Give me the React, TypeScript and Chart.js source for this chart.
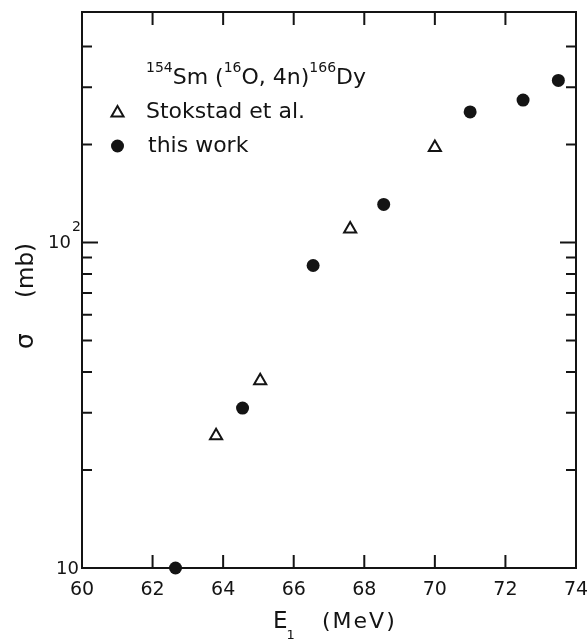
import React, { useEffect, useRef } from 'react';
import { Chart, registerables } from 'chart.js';

Chart.register(...registerables);

// ---- data ----
const X_TICKS = [60, 62, 64, 66, 68, 70, 72, 74];
const Y_MINOR_TICKS = [20, 30, 40, 50, 60, 70, 80, 90, 200, 300, 400];
const Y_MAJOR_TICKS = [100];
const STOKSTAD_E = [63.8, 65.05, 67.6, 70.0];
const STOKSTAD_SIGMA = [25.5, 37.6, 110, 196];
const THISWORK_E = [62.65, 64.55, 66.55, 68.55, 71.0, 72.5, 73.5];
const THISWORK_SIGMA = [10, 31, 85, 131, 252, 274, 315];

const FONT = '"DejaVu Sans", sans-serif';
const INK = '#141414';

function txt(ctx: CanvasRenderingContext2D, s: string, x: number, y: number, size: number, spacing = 0, align: CanvasTextAlign = 'left') {
  ctx.font = `${size}px ${FONT}`;
  (ctx as any).letterSpacing = `${spacing}px`;
  ctx.textAlign = align;
  ctx.textBaseline = 'alphabetic';
  ctx.fillText(s, x, y);
  const w = ctx.measureText(s).width;
  (ctx as any).letterSpacing = '0px';
  return w;
}

const framePlugin = {
  id: 'frame',
  beforeDatasetsDraw(chart: any) {
    const { ctx, chartArea: a, scales } = chart;
    const x = scales.x;
    const y = scales.y;
    ctx.save();
    ctx.strokeStyle = INK;
    ctx.lineWidth = 2;
    ctx.lineCap = 'butt';
    ctx.strokeRect(a.left, a.top, a.right - a.left, a.bottom - a.top);
    ctx.beginPath();
    for (const v of X_TICKS) {
      const px = x.getPixelForValue(v);
      ctx.moveTo(px, a.bottom);
      ctx.lineTo(px, a.bottom - 13);
      ctx.moveTo(px, a.top);
      ctx.lineTo(px, a.top + 13);
    }
    for (const v of Y_MINOR_TICKS) {
      const py = y.getPixelForValue(v);
      ctx.moveTo(a.left, py);
      ctx.lineTo(a.left + 10, py);
      ctx.moveTo(a.right, py);
      ctx.lineTo(a.right - 10, py);
    }
    for (const v of Y_MAJOR_TICKS) {
      const py = y.getPixelForValue(v);
      ctx.moveTo(a.left, py);
      ctx.lineTo(a.left + 16, py);
      ctx.moveTo(a.right, py);
      ctx.lineTo(a.right - 16, py);
    }
    ctx.stroke();
    ctx.restore();
  },
  afterDraw(chart: any) {
    const { ctx, chartArea: a, scales } = chart;
    const y = scales.y;
    ctx.save();
    ctx.fillStyle = INK;

    // y tick labels
    const y10 = y.getPixelForValue(10);
    txt(ctx, '10', a.left - 3, y10 + 6, 18, 0, 'right');
    const y100 = y.getPixelForValue(100);
    txt(ctx, '10', a.left - 11, y100 + 5, 18, 0, 'right');
    txt(ctx, '2', a.left - 10, y100 - 12, 14, 0, 'left');

    // y title (rotated)
    ctx.save();
    ctx.translate(33, 349);
    ctx.rotate(-Math.PI / 2);
    txt(ctx, 'σ', 0, 0, 25);
    txt(ctx, '(mb)', 51, 0, 23, 0);
    ctx.restore();

    // x title
    let cx = 273;
    cx += txt(ctx, 'E', cx, 628, 23);
    txt(ctx, '1', cx - 1, 639, 13);
    txt(ctx, '(MeV)', 322, 628, 22, 2);

    // reaction label
    cx = 146;
    cx += txt(ctx, '154', cx, 72, 14);
    cx += txt(ctx, 'Sm (', cx, 84, 22);
    cx += txt(ctx, '16', cx, 72, 14);
    cx += txt(ctx, 'O, 4n)', cx, 84, 22);
    cx += txt(ctx, '166', cx, 72, 14);
    txt(ctx, 'Dy', cx, 84, 22);

    // legend
    ctx.strokeStyle = INK;
    ctx.lineWidth = 2;
    const tx = 117.5, ty = 113, r = 7;
    ctx.beginPath();
    for (let i = 0; i < 3; i++) {
      const ang = (i * 2 * Math.PI) / 3;
      const px = tx + Math.sin(ang) * r;
      const py = ty - Math.cos(ang) * r;
      if (i === 0) ctx.moveTo(px, py); else ctx.lineTo(px, py);
    }
    ctx.closePath();
    ctx.fillStyle = '#fff';
    ctx.fill();
    ctx.stroke();
    ctx.fillStyle = INK;
    txt(ctx, 'Stokstad et al.', 146, 118, 22);

    ctx.beginPath();
    ctx.arc(117.5, 146, 6.5, 0, Math.PI * 2);
    ctx.fill();
    txt(ctx, 'this work', 148, 152, 22);

    ctx.restore();
  },
};

export default function App() {
  const ref = useRef<HTMLCanvasElement | null>(null);
  useEffect(() => {
    if (!ref.current) return;
    Chart.defaults.font.family = FONT;
    const chart = new Chart(ref.current, {
      type: 'scatter',
      data: {
        datasets: [
          {
            label: 'Stokstad et al.',
            data: STOKSTAD_E.map((e, i) => ({ x: e, y: STOKSTAD_SIGMA[i] })),
            pointStyle: 'triangle',
            pointRadius: 7,
            pointBackgroundColor: '#ffffff',
            pointBorderColor: INK,
            pointBorderWidth: 2,
            clip: false,
          } as any,
          {
            label: 'this work',
            data: THISWORK_E.map((e, i) => ({ x: e, y: THISWORK_SIGMA[i] })),
            pointStyle: 'circle',
            pointRadius: 6.5,
            pointBackgroundColor: INK,
            pointBorderColor: INK,
            pointBorderWidth: 0,
            clip: false,
          } as any,
        ],
      },
      options: {
        animation: false,
        responsive: false,
        events: [],
        layout: { padding: { top: 12, right: 11, left: 0, bottom: 0 } },
        plugins: { legend: { display: false }, tooltip: { enabled: false } },
        scales: {
          x: {
            type: 'linear',
            min: 60,
            max: 74,
            grid: { display: false },
            border: { display: false },
            ticks: {
              stepSize: 2,
              autoSkip: false,
              maxRotation: 0,
              padding: 3,
              color: INK,
              font: { size: 19, family: FONT },
            },
            afterFit(scale: any) {
              scale.height = 71;
              scale.paddingLeft = 0;
              scale.paddingRight = 0;
            },
          },
          y: {
            type: 'logarithmic',
            min: 10,
            max: 511,
            grid: { display: false },
            border: { display: false },
            ticks: { display: false },
            afterFit(scale: any) {
              scale.width = 82;
              scale.paddingTop = 0;
              scale.paddingBottom = 0;
            },
          },
        },
      } as any,
      plugins: [framePlugin],
    });
    return () => chart.destroy();
  }, []);
  return (
    <div style={{ position: 'fixed', left: 0, top: 0, width: 587, height: 639, background: '#fff' }}>
      <canvas ref={ref} width={587} height={639} style={{ display: 'block' }} />
    </div>
  );
}
